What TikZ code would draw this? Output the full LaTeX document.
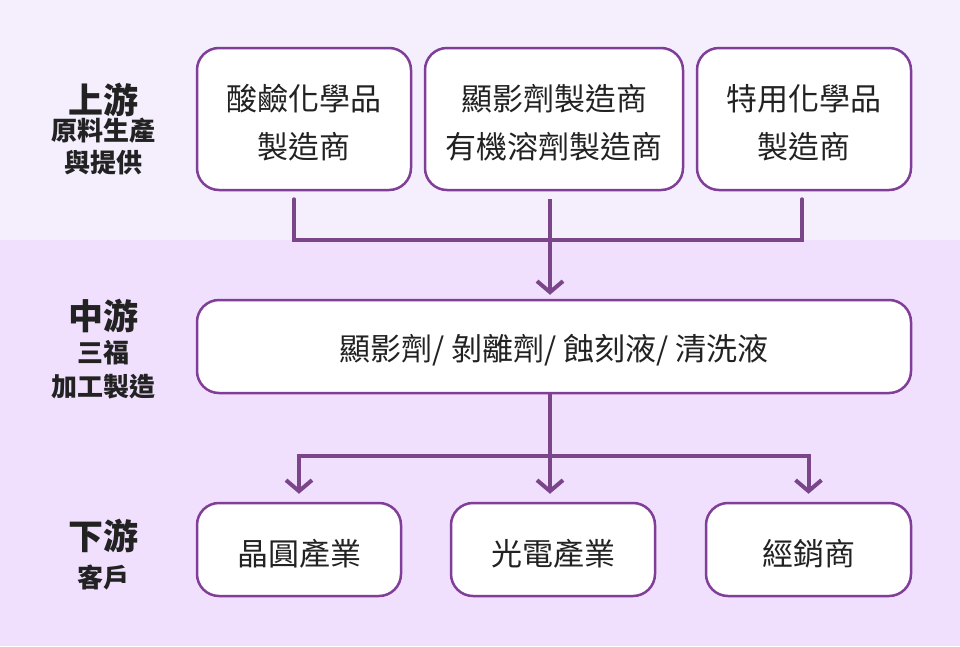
\documentclass[tikz,border=0pt]{standalone}
\usepackage{fontspec}
\setmainfont{Noto Sans CJK TC}
\usetikzlibrary{arrows.meta}
\definecolor{bgtop}{HTML}{F5EEFD}
\definecolor{bgbot}{HTML}{F0E0FD}
\definecolor{boxline}{HTML}{803E98}
\definecolor{conn}{HTML}{7A4689}
\definecolor{txt}{HTML}{222222}
\newcommand\cardstrut{\rule{0pt}{34pt}}
\tikzset{
  card/.style={draw=boxline, line width=2.5pt, fill=white, rounded corners=22pt, text=txt,
    align=center, font=\fontsize{31}{48}\selectfont, inner sep=0pt},
  lbl/.style={text=txt, align=center, inner sep=0pt},
  wire/.style={draw=conn, line width=4pt},
  arr/.style={wire, -{Straight Barb[length=11pt,width=26pt,line width=4pt]}},
}
\begin{document}
\begin{tikzpicture}[x=1pt,y=-1pt]
\fill[bgtop] (0,0) rectangle (960,240);
\fill[bgbot] (0,240) rectangle (960,646);
\useasboundingbox (0,0) rectangle (960,646);

% left labels
\node[lbl, font=\bfseries\fontsize{35}{35}\selectfont] (lu) at (103,100) {上游};
\node[lbl, font=\bfseries\fontsize{26}{32}\selectfont] (lu2) at (103,146) {原料生產\\與提供};
\node[lbl, font=\bfseries\fontsize{35}{35}\selectfont] (lm) at (103,316) {中游};
\node[lbl, font=\bfseries\fontsize{26}{34}\selectfont] (lm2) at (103,370) {三福\\加工製造};
\node[lbl, font=\bfseries\fontsize{35}{35}\selectfont] (ld) at (103,536) {下游};
\node[lbl, font=\bfseries\fontsize{26}{26}\selectfont] (ld2) at (103,578) {客戶};

% top boxes
\node[card, minimum width=214pt, minimum height=142pt] (t1) at (304,119) {\cardstrut 酸鹼化學品\\製造商};
\node[card, minimum width=258pt, minimum height=142pt] (t2) at (554,119) {\cardstrut 顯影劑製造商\\有機溶劑製造商};
\node[card, minimum width=214pt, minimum height=142pt] (t3) at (804,119) {\cardstrut 特用化學品\\製造商};

% middle box
\node[card, minimum width=714pt, minimum height=93pt] (m) at (554,346.5) {\cardstrut 顯影劑/ 剝離劑/ 蝕刻液/ 清洗液};

% bottom boxes
\node[card, minimum width=204pt, minimum height=93pt] (b1) at (299,549.5) {\cardstrut 晶圓產業};
\node[card, minimum width=204pt, minimum height=93pt] (b2) at (553,549.5) {\cardstrut 光電產業};
\node[card, minimum width=205pt, minimum height=93pt] (b3) at (808.5,549.5) {\cardstrut 經銷商};

% connectors
\coordinate (j1) at (550,240);
\coordinate (j2) at (550,456);
\draw[wire, line cap=round] ([xshift=-10pt,yshift=-8pt]t1.south) |- (j1);
\draw[wire, line cap=round] ([xshift=-2pt,yshift=-8pt]t3.south) |- (j1);
\draw[arr] ([xshift=-4pt,yshift=-8pt]t2.south) -- ([xshift=-4pt,yshift=4pt]m.north);
\draw[wire] ([xshift=-4pt]m.south) -- (j2);
\draw[arr] (j2) -| ([yshift=8pt]b1.north);
\draw[arr] (j2) -| ([yshift=8pt]b3.north);
\draw[arr] (j2) -- ([xshift=-3pt,yshift=8pt]b2.north);
\end{tikzpicture}
\end{document}
